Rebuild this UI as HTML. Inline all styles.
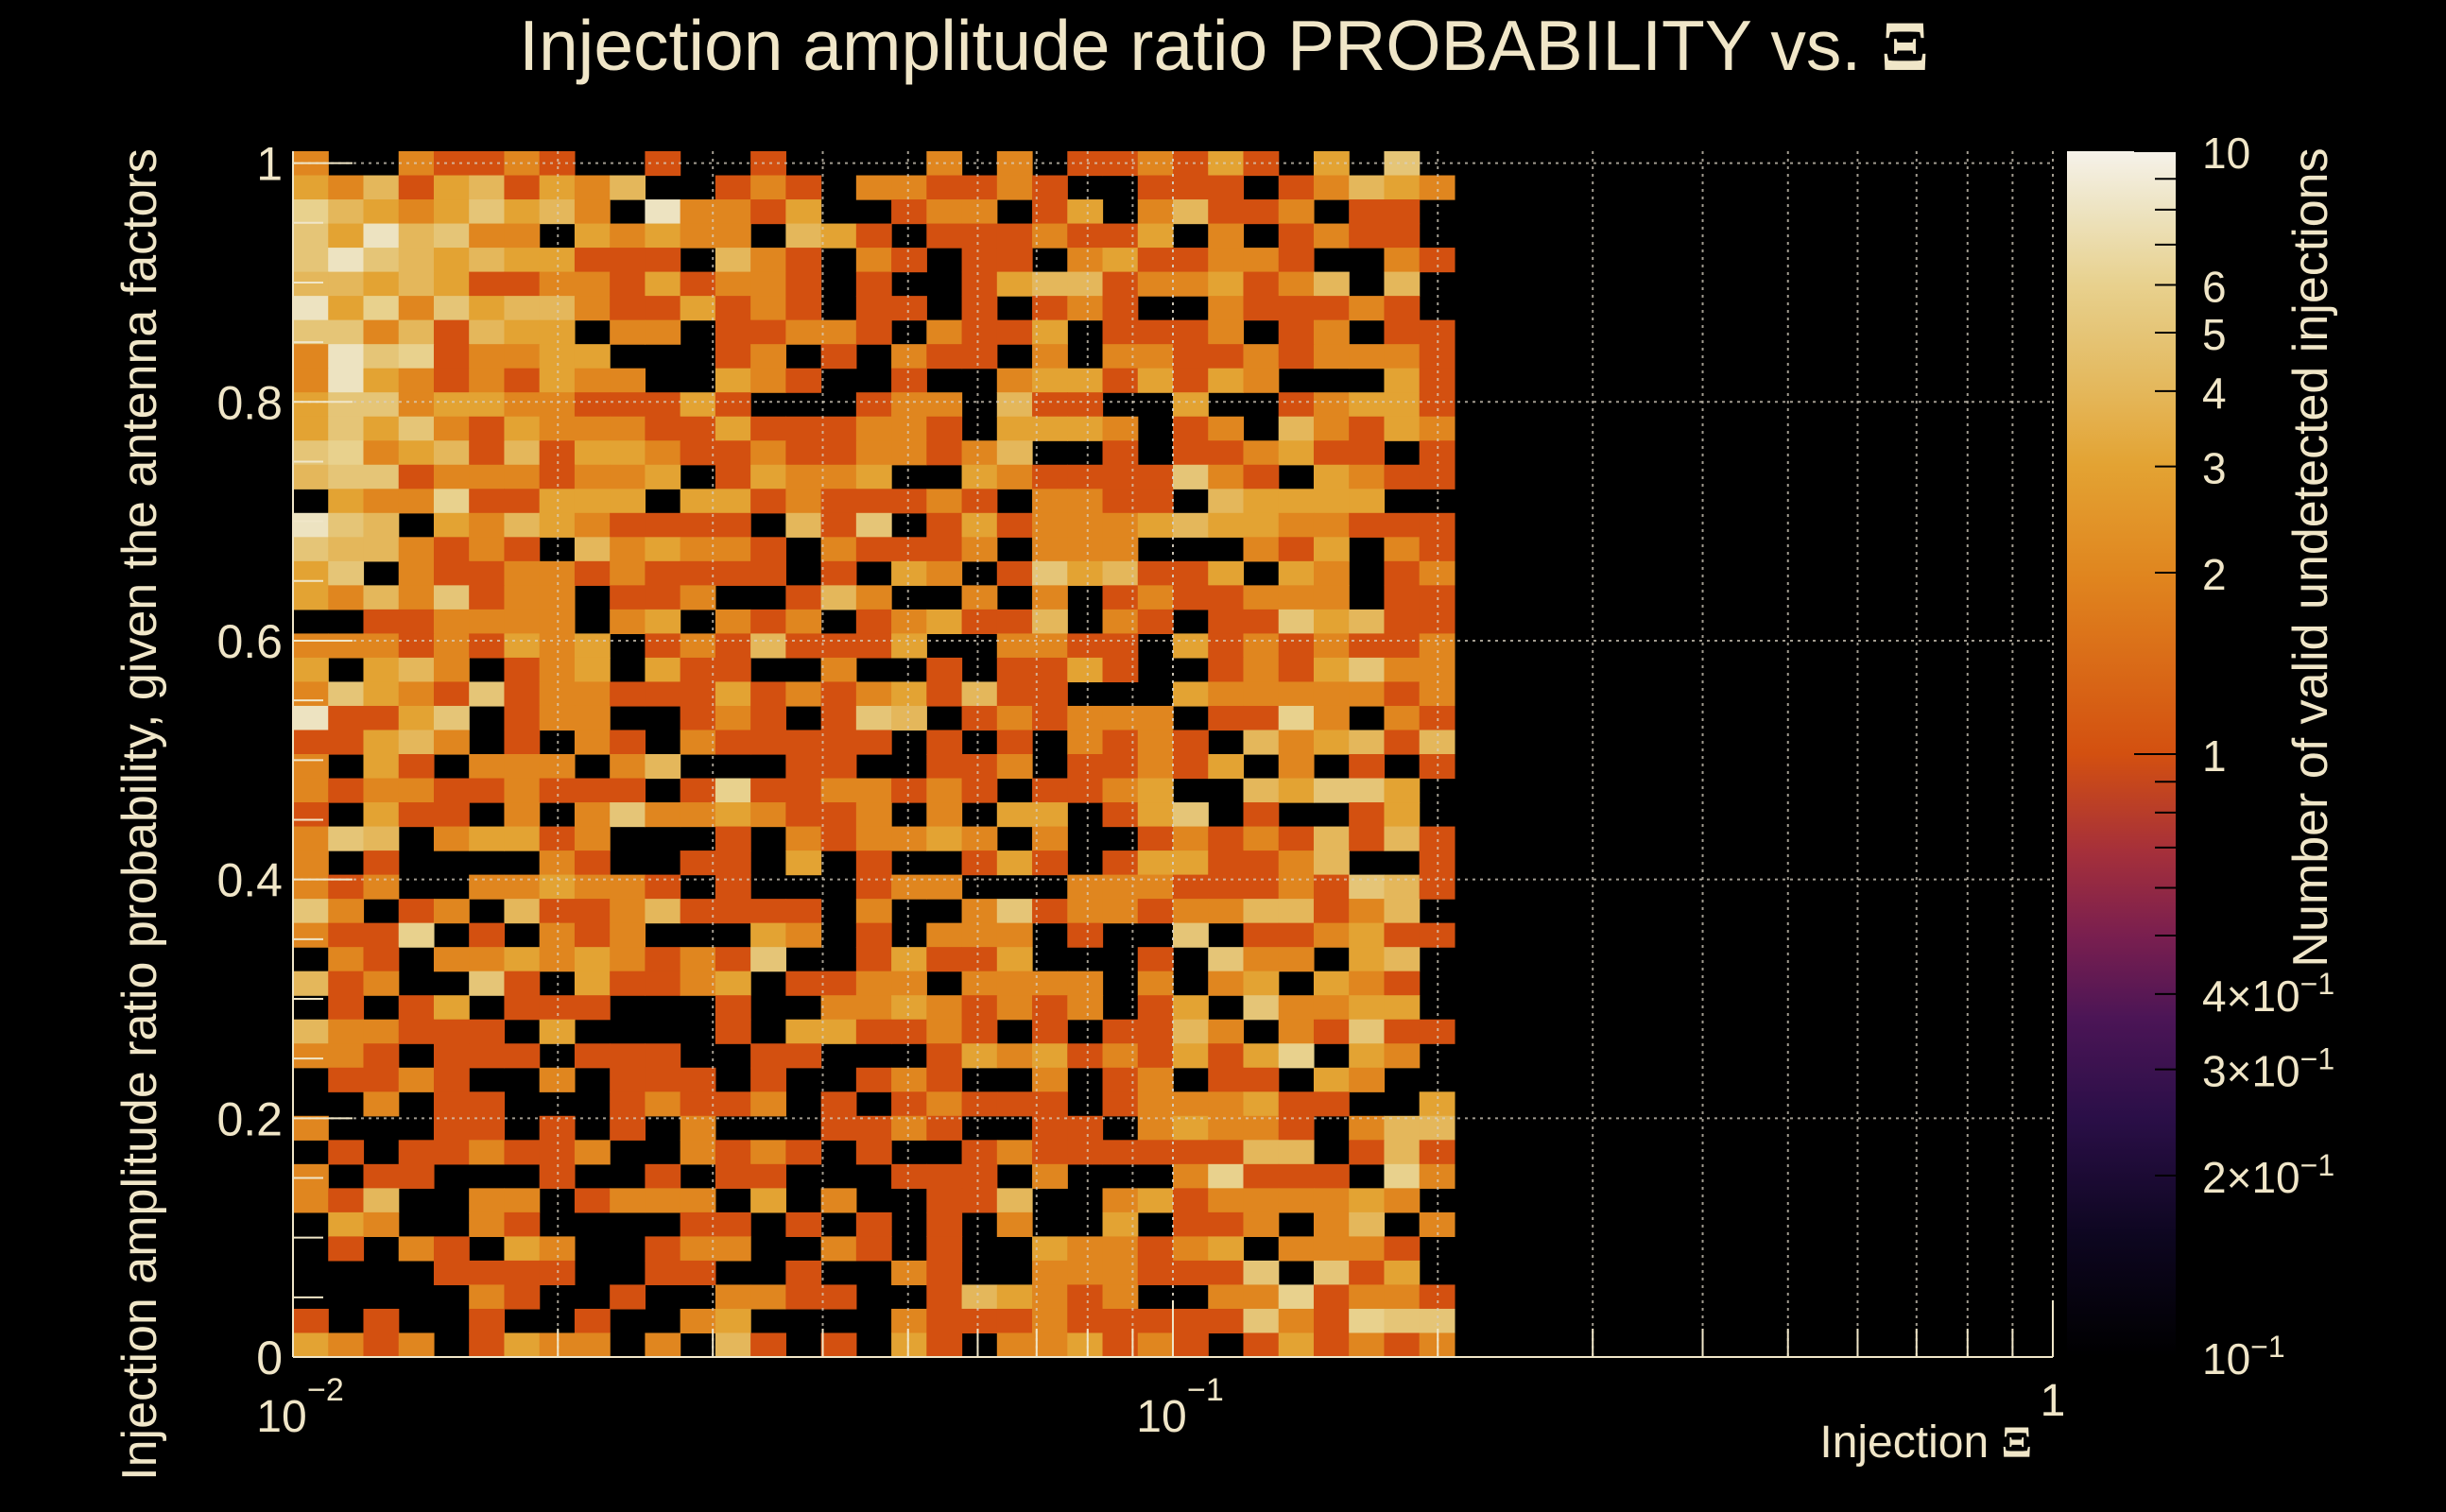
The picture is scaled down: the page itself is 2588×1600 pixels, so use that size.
<!DOCTYPE html>
<html><head><meta charset="utf-8"><style>
html,body{margin:0;padding:0;background:#000;}
svg{display:block;}
text{font-family:"Liberation Sans",sans-serif;fill:#f0e6c8;}
</style></head><body>
<svg id="chart" width="2588" height="1600" viewBox="0 0 2588 1600" xmlns="http://www.w3.org/2000/svg">
<defs>
<linearGradient id="cbgrad" x1="0" y1="1" x2="0" y2="0">
<stop offset="0" stop-color="#000000"/><stop offset="0.10" stop-color="#0d0620"/><stop offset="0.20" stop-color="#2b0f48"/><stop offset="0.28" stop-color="#4b1556"/><stop offset="0.35" stop-color="#7a1f4f"/><stop offset="0.42" stop-color="#a6303a"/><stop offset="0.50" stop-color="#d35010"/><stop offset="0.65" stop-color="#e0861f"/><stop offset="0.74" stop-color="#e3a333"/><stop offset="0.80" stop-color="#e4b75a"/><stop offset="0.85" stop-color="#e5c577"/><stop offset="0.89" stop-color="#e8d18e"/><stop offset="0.95" stop-color="#ede3c0"/><stop offset="1" stop-color="#f6f2ea"/>
</linearGradient>
</defs>
<rect x="0" y="0" width="2588" height="1600" fill="#000"/>
<g id="cells"></g>
<g id="grid"></g>
<g id="axes"></g>
<text x="1295" y="74" font-size="75" text-anchor="middle">Injection amplitude ratio PROBABILITY vs.  <tspan font-family="Liberation Serif, serif" font-weight="bold">Ξ</tspan></text>
<text transform="translate(165,862) rotate(-90)" font-size="52" text-anchor="middle">Injection amplitude ratio probability, given the antenna factors</text>
<text x="2150" y="1542" font-size="48" text-anchor="end">Injection <tspan font-family="Liberation Serif, serif" font-weight="bold">Ξ</tspan></text>
<rect x="2187" y="160" width="115" height="1276" fill="url(#cbgrad)"/>
<g id="cbaxis"></g>
<text transform="translate(2462,590) rotate(-90)" font-size="52" text-anchor="middle">Number of valid undetected injections</text>
</svg>
<script>
const xBinsPerDecade = 25;
const xMinVal = 0.01, xMaxVal = 1;
const yMinVal = 0, yMaxVal = 1.01;
const nRows = 50;
const yTickValues = [0, 0.2, 0.4, 0.6, 0.8, 1];
const yTickText = ["0", "0.2", "0.4", "0.6", "0.8", "1"];
const xTickValues = [0.01, 0.1, 1];
const xTickBase = ["10", "10", "1"];
const xTickExp = ["\u22122", "\u22121", ""];
const cbTickValues = [10, 6, 5, 4, 3, 2, 1, 0.4, 0.3, 0.2, 0.1];
const cbTickBase = ["10", "6", "5", "4", "3", "2", "1", "4\u00d710", "3\u00d710", "2\u00d710", "10"];
const cbTickExp = ["", "", "", "", "", "", "", "\u22121", "\u22121", "\u22121", "\u22121"];
const counts = [
[2,0,0,2,1,1,2,1,0,0,1,0,0,1,0,0,0,0,2,0,2,0,1,1,2,1,3,1,0,3,0,5,0],
[3,2,4,1,3,4,1,3,2,4,0,0,1,2,1,0,2,2,1,1,2,1,0,0,1,1,1,0,1,2,4,3,2],
[6,4,3,2,3,5,3,4,2,0,8,2,2,1,3,0,0,1,2,2,0,1,3,0,2,4,1,1,2,0,1,1,0],
[5,3,8,4,5,2,2,0,3,2,3,2,2,0,4,3,1,0,1,1,1,2,1,1,3,0,2,0,1,2,1,1,0],
[5,8,5,4,3,4,3,3,1,1,1,0,4,2,1,0,2,1,0,1,1,0,2,3,1,1,2,2,1,0,0,2,1],
[4,4,3,4,3,1,1,2,2,1,3,1,2,2,1,0,1,0,0,1,3,4,4,1,2,2,3,1,2,4,0,4,0],
[8,3,6,2,5,3,4,4,2,1,1,3,1,2,1,0,1,1,0,1,0,1,2,1,0,0,2,1,1,1,2,1,0],
[5,5,2,4,1,4,3,3,0,2,2,0,1,1,2,2,1,0,2,1,1,3,0,1,1,1,2,0,1,2,0,1,1],
[2,8,5,6,1,2,2,3,3,0,0,0,1,2,0,1,0,2,1,1,0,2,0,2,2,1,1,2,1,2,2,2,1],
[2,8,3,2,1,2,1,3,2,2,0,0,3,2,1,0,0,1,0,0,2,3,3,1,3,1,3,2,0,0,0,3,1],
[3,5,5,2,3,3,2,2,1,1,1,3,1,0,0,0,1,2,2,0,4,1,1,0,0,3,0,0,1,2,3,3,1],
[3,5,3,5,2,1,3,2,2,2,1,1,3,1,1,1,2,2,1,0,3,3,3,2,0,1,2,0,4,2,1,3,2],
[5,6,2,3,4,1,4,1,3,3,2,1,1,2,1,1,2,2,1,2,4,0,0,1,0,1,1,2,3,1,1,0,1],
[4,5,5,1,2,2,2,1,2,2,3,0,1,3,2,2,3,0,0,3,2,1,1,1,1,5,2,1,0,3,2,1,1],
[0,3,2,2,6,1,1,3,3,3,0,3,3,1,2,1,1,1,2,1,0,2,2,1,1,0,4,3,3,3,3,0,0],
[8,5,4,0,3,2,4,3,2,1,1,1,1,0,4,1,5,0,1,3,1,2,2,2,3,4,3,3,2,2,1,1,1],
[5,4,4,2,1,2,1,0,4,2,3,2,2,1,0,2,1,1,1,2,0,2,2,2,0,0,0,2,1,3,0,2,1],
[3,5,0,2,1,1,2,2,1,2,1,1,1,1,0,1,0,3,2,0,1,5,3,4,1,1,3,0,3,2,0,1,2],
[3,2,4,2,5,1,2,2,0,1,1,2,0,0,1,4,2,0,0,2,0,2,0,1,2,1,1,2,2,2,0,1,1],
[0,0,1,1,2,2,2,2,0,2,3,0,2,1,2,0,1,2,3,1,1,4,0,2,1,0,1,1,5,3,4,1,1],
[2,2,2,1,2,1,3,2,3,0,1,2,1,4,1,1,1,3,0,0,2,2,1,1,0,3,1,2,1,2,1,1,2],
[3,0,3,4,2,0,1,2,3,0,3,1,1,0,0,2,0,0,1,0,1,1,3,1,0,0,1,2,1,3,5,2,2],
[2,5,3,2,1,5,1,2,2,1,1,1,3,1,2,1,2,3,1,4,1,1,0,0,0,3,2,2,2,2,2,1,2],
[8,1,1,3,5,0,1,2,2,0,0,1,2,1,0,1,5,4,0,1,2,1,2,2,2,0,1,1,6,2,0,2,1],
[1,1,3,4,2,0,1,0,2,1,0,2,1,1,1,1,1,0,1,0,1,0,2,1,2,1,0,4,2,3,4,1,4],
[2,0,3,1,0,2,2,2,0,2,4,0,0,0,1,1,0,0,1,1,2,0,1,1,2,1,3,0,2,0,1,0,1],
[2,1,2,2,1,1,2,1,1,1,0,1,6,1,1,2,2,1,2,1,0,1,1,2,3,0,0,4,3,5,5,3,0],
[1,0,3,1,1,0,2,0,2,5,2,2,3,2,1,1,2,0,2,0,3,3,0,1,3,5,0,1,0,0,1,3,0],
[2,5,4,0,2,3,3,1,2,0,0,0,1,0,2,1,2,2,3,2,0,2,0,0,1,2,1,2,1,4,1,4,1],
[2,0,1,0,0,0,0,2,1,0,0,1,1,0,3,0,1,0,0,1,3,1,0,1,3,3,1,1,2,4,0,0,1],
[2,1,2,0,0,2,2,3,2,2,1,0,1,0,0,0,1,2,2,0,0,0,2,2,2,1,1,1,2,1,5,4,1],
[5,2,0,1,2,0,4,1,1,2,4,1,1,1,1,0,2,0,0,2,5,1,2,2,1,2,2,4,4,1,2,4,0],
[2,1,1,6,0,1,0,2,1,2,0,0,0,3,2,0,1,0,2,2,2,0,1,0,0,5,0,1,1,2,3,1,1],
[0,2,1,0,2,2,3,2,3,2,1,2,1,5,0,0,1,3,1,1,3,0,0,0,1,0,5,2,2,0,3,4,0],
[4,1,2,0,0,5,1,0,3,1,1,2,3,0,1,1,2,2,0,2,2,2,2,0,2,0,2,3,0,3,2,1,0],
[0,1,0,1,3,0,1,1,1,0,0,0,1,0,0,2,2,3,2,1,2,1,2,0,1,3,0,5,2,2,3,3,0],
[4,2,2,1,1,1,0,3,0,0,0,0,1,0,3,3,1,1,2,1,0,1,0,1,1,4,2,0,2,1,5,1,1],
[2,2,1,0,1,1,1,0,1,1,1,0,0,1,1,0,0,0,1,3,2,3,1,2,1,3,1,3,6,0,3,2,0],
[0,1,1,2,1,0,0,2,0,1,1,1,0,1,0,0,1,2,1,0,0,2,0,1,2,0,1,1,0,3,2,0,0],
[0,0,2,0,1,1,0,0,0,1,2,1,1,2,0,1,0,1,2,1,1,1,0,1,2,2,2,3,1,1,0,0,3],
[2,0,0,0,1,1,0,1,0,1,0,2,0,0,0,1,1,2,1,0,0,1,1,0,2,3,2,2,1,0,2,4,4],
[0,1,0,1,1,2,1,1,2,0,0,2,1,2,1,0,1,0,0,1,2,1,1,1,1,1,1,4,4,0,1,4,1],
[2,0,1,1,0,0,0,1,0,0,1,0,1,1,0,0,0,1,1,1,0,2,0,0,0,2,6,1,1,1,0,6,2],
[2,1,4,0,0,2,2,0,1,2,2,2,0,3,0,2,0,0,1,1,4,0,0,2,3,1,2,2,2,2,3,2,0],
[0,3,2,0,0,2,1,0,0,0,0,1,1,0,1,0,1,0,1,0,2,0,0,3,0,1,1,2,0,2,4,0,2],
[0,1,0,2,1,0,3,2,0,0,1,2,2,0,0,2,1,0,1,0,0,3,2,2,1,2,3,0,2,2,2,1,0],
[0,0,0,0,1,1,1,1,0,0,1,1,0,0,1,0,0,2,1,0,0,2,2,2,1,1,1,5,0,5,1,3,0],
[0,0,0,0,0,2,1,0,0,1,0,0,2,2,1,1,0,0,1,4,3,2,1,2,0,0,2,2,6,1,2,2,1],
[1,0,1,0,0,1,0,0,1,0,0,2,3,0,0,0,0,2,1,1,1,2,1,1,1,1,1,5,2,1,6,5,5],
[3,2,1,2,0,1,3,2,2,0,2,0,4,1,0,1,0,3,1,0,2,2,3,1,2,1,0,1,3,1,2,1,2]
];

const NS = "http://www.w3.org/2000/svg";
const PL = 310, PR = 2172, PT = 160, PB = 1436;
const CB_T = 160, CB_B = 1436, CB_X = 2187, CB_W = 115;
function xScale(v){ return PL + (Math.log10(v) - Math.log10(xMinVal)) / (Math.log10(xMaxVal) - Math.log10(xMinVal)) * (PR - PL); }
function yScale(v){ return PB - (v - yMinVal) / (yMaxVal - yMinVal) * (PB - PT); }
function cbScale(v){ return CB_B - (Math.log10(v) + 1) / 2 * (CB_B - CB_T); }
const stops = [[0,"#000000"],[0.10,"#0d0620"],[0.20,"#2b0f48"],[0.28,"#4b1556"],[0.35,"#7a1f4f"],[0.42,"#a6303a"],[0.50,"#d35010"],[0.65,"#e0861f"],[0.74,"#e3a333"],[0.80,"#e4b75a"],[0.85,"#e5c577"],[0.89,"#e8d18e"],[0.95,"#ede3c0"],[1,"#f6f2ea"]];
function hex(c){ return [parseInt(c.substr(1,2),16),parseInt(c.substr(3,2),16),parseInt(c.substr(5,2),16)]; }
function colorFor(v){
  let t = (Math.log10(v) + 1) / 2; t = Math.max(0, Math.min(1, t));
  for (let i = 1; i < stops.length; i++) {
    if (t <= stops[i][0]) {
      const a = stops[i-1], b = stops[i]; const f = (t - a[0]) / (b[0] - a[0]);
      const ca = hex(a[1]), cb = hex(b[1]);
      return "rgb(" + ca.map((x,k)=>Math.round(x + (cb[k]-x)*f)).join(",") + ")";
    }
  }
  return stops[stops.length-1][1];
}
function mk(tag, attrs, parent){ const e = document.createElementNS(NS, tag); for (const k in attrs) e.setAttribute(k, attrs[k]); parent.appendChild(e); return e; }

const cellsG = document.getElementById("cells");
const rowH = (yMaxVal - yMinVal) / nRows;
counts.forEach((row, r) => {
  const yb = nRows - 1 - r;
  const y0 = yMinVal + yb * rowH, y1 = y0 + rowH;
  row.forEach((v, c) => {
    if (v <= 0) return;
    const x0 = xMinVal * Math.pow(10, c / xBinsPerDecade), x1 = xMinVal * Math.pow(10, (c + 1) / xBinsPerDecade);
    const px0 = xScale(x0), px1 = xScale(x1), py0 = yScale(y1), py1 = yScale(y0);
    const rc = mk("rect", {x: px0.toFixed(2), y: py0.toFixed(2), width: (px1 - px0 + 0.6).toFixed(2), height: (py1 - py0 + 0.6).toFixed(2), fill: colorFor(v)}, cellsG);
    
    
  });
});

const gridG = document.getElementById("grid");
for (let d = -2; d <= -1; d++) {
  for (let m = 1; m <= 10; m++) {
    const v = m * Math.pow(10, d);
    if (v <= xMinVal) continue;
    const x = xScale(v);
    const gl = mk("line", {x1: x, x2: x, y1: PT, y2: PB, stroke: "#d8d0c0", "stroke-width": 2, "stroke-dasharray": "3,5", opacity: 0.75}, gridG);
    
    
  }
}
yTickValues.forEach(v => {
  if (v === 0) return;
  const y = yScale(v);
  const gl = mk("line", {x1: PL, x2: PR, y1: y, y2: y, stroke: "#d8d0c0", "stroke-width": 2, "stroke-dasharray": "3,5", opacity: 0.75}, gridG);
  
  
});

const axG = document.getElementById("axes");
const ax1 = mk("line", {x1: PL, x2: PL, y1: PT, y2: PB, stroke: "#f0e6c8", "stroke-width": 2}, axG);


const ax2 = mk("line", {x1: PL, x2: PR, y1: PB, y2: PB, stroke: "#f0e6c8", "stroke-width": 2}, axG);


for (let i = 0; i <= 20; i++) {
  const v = i * 0.05; const y = yScale(v);
  const len = (i % 4 === 0) ? 63 : 32;
  const tk = mk("line", {x1: PL, x2: PL + len, y1: y, y2: y, stroke: "#f0e6c8", "stroke-width": 2}, axG);
  
  
}
for (let d = -2; d <= 0; d++) {
  for (let m = 1; m <= 9; m++) {
    const v = m * Math.pow(10, d);
    if (v > xMaxVal) continue;
    const x = xScale(v); const len = m === 1 ? 60 : 30;
    const tk = mk("line", {x1: x, x2: x, y1: PB, y2: PB - len, stroke: "#f0e6c8", "stroke-width": 2}, axG);
    
    
  }
}
yTickValues.forEach((v, i) => {
  const t = mk("text", {x: 299, y: yScale(v) + 18, "font-size": 50, "text-anchor": "end"}, axG);
  t.textContent = yTickText[i];
  
  
});
xTickValues.forEach((v, i) => {
  const x = xScale(v);
  const t = mk("text", {x: xTickExp[i] ? x - 12 : x, y: xTickExp[i] ? 1515 : 1498, "font-size": 48, "text-anchor": "middle"}, axG);
  t.textContent = xTickBase[i];
  
  
  if (xTickExp[i]) {
    const s = mk("text", {x: x + 15, y: 1482, "font-size": 34, "text-anchor": "start"}, axG);
    s.textContent = xTickExp[i];
    
    
  }
});

const cbG = document.getElementById("cbaxis");
for (let d = -1; d <= 0; d++) {
  for (let m = 1; m <= 10; m++) {
    const v = m * Math.pow(10, d);
    if (v > 10) continue;
    const y = cbScale(v); const len = (m === 1 || m === 10) ? 44 : 22;
    const tk = mk("line", {x1: CB_X + CB_W - len, x2: CB_X + CB_W, y1: y, y2: y, stroke: "#000", "stroke-width": 2}, cbG);
    
    
  }
}
cbTickValues.forEach((v, i) => {
  const y = cbScale(v) + 18;
  const t = mk("text", {x: 2330, y: y, "font-size": 46}, cbG);
  t.textContent = cbTickBase[i];
  
  
  if (cbTickExp[i]) {
    const s = mk("tspan", {dy: -18, "font-size": 32}, t);
    s.textContent = cbTickExp[i];
  }
});
</script>
</body></html>
